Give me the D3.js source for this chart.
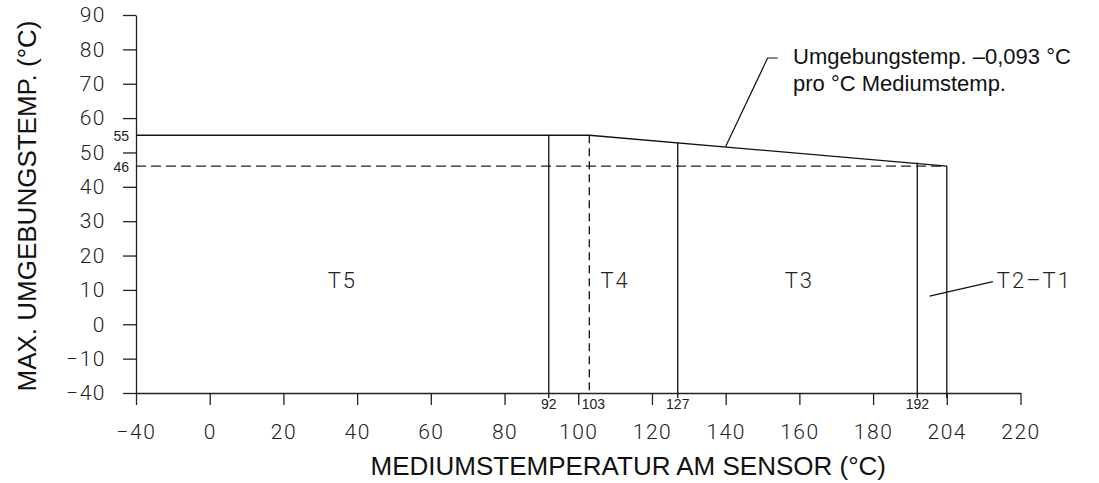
<html>
<head>
  <meta charset="utf-8">
  <title>Max. Umgebungstemperatur</title>
  <style>
    body { margin: 0; background: #fff; }
    .axis path, .axis line { stroke: #222; stroke-width: 1.3; }
    .axis text { font-family: Roboto, "Liberation Sans", sans-serif; font-weight: 300; font-size: 21px; fill: #222; letter-spacing: 1.5px; }
    .small { font-family: "Liberation Sans", Arial, sans-serif; font-size: 14px; fill: #222; }
    .zone { font-family: Roboto, "Liberation Sans", sans-serif; font-weight: 300; font-size: 22px; fill: #222; letter-spacing: 2px; }
    .title { font-family: "Liberation Sans", Arial, sans-serif; font-size: 26px; fill: #111; }
    .note { font-family: "Liberation Sans", Arial, sans-serif; font-size: 22px; fill: #111; }
  </style>
  <script src="https://d3js.org/d3.v7.min.js"></script>
</head>
<body>
  <div id="chart"></div>
  <script>
    // Tick labels (axis is drawn with breaks: -40 and 204 sit one step off)
    const xTicks = [-40, 0, 20, 40, 60, 80, 100, 120, 140, 160, 180, 204, 220];
    const yTicks = [-40, -10, 0, 10, 20, 30, 40, 50, 60, 70, 80, 90];

    // Temperature class boundaries (medium temperature, °C)
    const boundaries = [92, 103, 127, 192, 204];
    const boundaryLabels = ["92", "103", "127", "192", ""];

    // Max. ambient temperature curve
    const limitX = [-40, 103, 204];
    const limitY = [55, 55, 46];
    const lowLimit = 46;
    const levelLabels = [55, 46];

    // Zones
    const zones = ["T5", "T4", "T3", "T2\u2013T1"];
    const zoneX = [36, 110, 160];

    const width = 1099, height = 483;

    // piecewise scales reproduce the broken axes of the drawing
    const x0 = 136, x1 = 1020.5, xs = (x1 - x0) / 12;
    const lin = v => x0 + (v + 20) / 20 * xs;
    const x = d3.scaleLinear()
      .domain([-40, 0, 192, 204, 220])
      .range([lin(-20), lin(0), lin(192), lin(200), lin(220)]);

    const yb = 393, yt = 15, ys = (yb - yt) / 11;
    const y = d3.scaleLinear()
      .domain([-40, -10, 90])
      .range([yb, yb - ys, yt]);

    const svg = d3.select("#chart")
      .append("svg")
      .attr("width", width)
      .attr("height", height);

    // limit value along the sloped segment
    const limitAt = v => d3.scaleLinear().domain(limitX.slice(1)).range(limitY.slice(1))(v);
    const topOf = v => v <= 103 ? 55 : limitAt(v);

    // Axes
    svg.append("g")
      .attr("class", "axis")
      .attr("transform", `translate(0,${yb})`)
      .call(d3.axisBottom(x).tickValues(xTicks).tickSize(12).tickSizeOuter(0).tickPadding(19));

    svg.append("g")
      .attr("class", "axis")
      .attr("transform", `translate(${x0},0)`)
      .call(d3.axisLeft(y).tickValues(yTicks).tickSize(13).tickSizeOuter(0).tickPadding(17));

    // Dashed 46 °C line
    svg.append("line")
      .attr("x1", x(-40)).attr("x2", x(204))
      .attr("y1", y(lowLimit)).attr("y2", y(lowLimit))
      .attr("stroke", "#222").attr("stroke-width", 1.3)
      .attr("stroke-dasharray", "10,5");

    // Limit curve
    const line = d3.line().x(d => x(d[0])).y(d => y(d[1]));
    svg.append("path")
      .datum(d3.zip(limitX, limitY))
      .attr("d", line)
      .attr("fill", "none")
      .attr("stroke", "#111")
      .attr("stroke-width", 1.3);

    // Class boundaries
    boundaries.forEach((b, i) => {
      const dashed = b === 103;
      svg.append("line")
        .attr("x1", x(b)).attr("x2", x(b))
        .attr("y1", y(b === 204 ? lowLimit : topOf(b)))
        .attr("y2", dashed ? yb : yb + 5)
        .attr("stroke", "#111")
        .attr("stroke-width", 1.3)
        .attr("stroke-dasharray", dashed ? "8,5" : null);
      if (boundaryLabels[i]) {
        svg.append("text")
          .attr("class", "small")
          .attr("x", x(b) + (dashed ? 4 : 0))
          .attr("y", yb + 16)
          .attr("text-anchor", "middle")
          .text(boundaryLabels[i]);
      }
    });

    // 55 / 46 labels at the y axis
    levelLabels.forEach(v => {
      svg.append("text")
        .attr("class", "small")
        .attr("x", x0 - 7)
        .attr("y", y(v) + 6)
        .attr("text-anchor", "end")
        .text(v);
    });

    // Zone labels
    zoneX.forEach((v, i) => {
      svg.append("text")
        .attr("class", "zone")
        .attr("x", x(v))
        .attr("y", y(10.5))
        .attr("text-anchor", "middle")
        .text(zones[i]);
    });

    // T2-T1 with leader
    svg.append("line")
      .attr("x1", x(197)).attr("y1", y(8.2))
      .attr("x2", x(214)).attr("y2", y(12.4))
      .attr("stroke", "#111").attr("stroke-width", 1.2);
    svg.append("text")
      .attr("class", "zone")
      .attr("x", x(214) + 4)
      .attr("y", y(10.5))
      .text(zones[3]);

    // Slope annotation
    const ax = 140;
    svg.append("path")
      .attr("d", `M${x(ax)},${y(limitAt(ax))}L${x(ax) + 42},58L${x(ax) + 52},58`)
      .attr("fill", "none").attr("stroke", "#111").attr("stroke-width", 1.2);
    const note = svg.append("text").attr("class", "note").attr("x", 793).attr("y", 64);
    note.append("tspan").text("Umgebungstemp. \u20130,093 °C");
    note.append("tspan").attr("x", 793).attr("dy", 27).text("pro °C Mediumstemp.");

    // Axis titles
    svg.append("text")
      .attr("class", "title")
      .attr("x", (x0 + x1) / 2 + 50)
      .attr("y", 475)
      .attr("text-anchor", "middle")
      .text("MEDIUMSTEMPERATUR AM SENSOR (°C)");

    svg.append("text")
      .attr("class", "title")
      .attr("transform", `translate(36,206) rotate(-90)`)
      .attr("text-anchor", "middle")
      .text("MAX. UMGEBUNGSTEMP. (°C)");
  </script>
</body>
</html>
